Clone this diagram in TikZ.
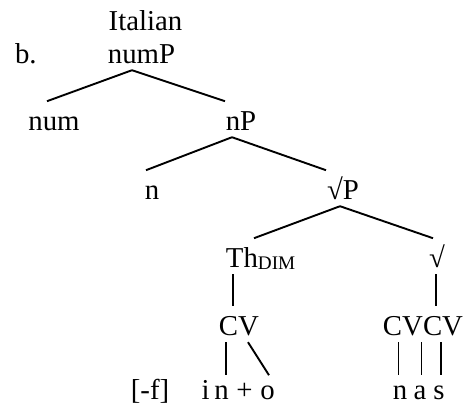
\documentclass[tikz,border=0pt]{standalone}
\usepackage{fontspec}
\setmainfont{Liberation Serif}
\tikzset{
  lab/.style={anchor=base, inner xsep=0pt, inner ysep=7pt, text height=21.6pt, text depth=0pt,
    font=\fontsize{28.8}{34}\selectfont},
  leaf/.style={lab, inner ysep=2pt},
  branch/.style={line width=1.9pt, line cap=butt},
}
\begin{document}
\begin{tikzpicture}[x=1pt,y=1pt]
\useasboundingbox (0,0) rectangle (468,-408);
% labels
\node[lab] (ital) at (145.5,-30) {Italian};
\node[lab] (b) at (25.8,-63) {b.};
\node[lab] (numP) at (141.5,-63) {numP};
\node[lab] (num) at (54,-130) {num};
\node[lab] (nP) at (241,-130) {nP};
\node[lab] (n) at (152,-199) {n};
\node[lab] (rootP) at (343,-199) {√P};
\node[lab] (th) at (260.6,-267) {Th{\fontsize{19.2}{20}\selectfont\raisebox{-2pt}{DIM}}};
\node[lab] (root) at (437,-267) {√};
\node[lab] (cv) at (239,-335) {CV};
\node[lab] (cvcv) at (423,-335) {CVCV};
\node[leaf] (f) at (150,-399) {[-f]};
\node[leaf] (i) at (205.5,-399) {i};
\node[leaf] (n1) at (221.5,-399) {n};
\node[leaf] (plus) at (244.5,-399) {+};
\node[leaf] (o) at (267.5,-399) {o};
\node[leaf] (n2) at (400,-399) {n};
\node[leaf] (a) at (420,-399) {a};
\node[leaf] (s) at (439,-399) {s};
% branches
\draw[branch] ([xshift=-9.5pt]numP.south) -- ([xshift=-7pt]num.north);
\draw[branch] ([xshift=-9.5pt]numP.south) -- ([xshift=-16pt]nP.north);
\draw[branch] ([xshift=-9pt]nP.south) -- ([xshift=-6pt]n.north);
\draw[branch] ([xshift=-9pt]nP.south) -- ([xshift=-17pt]rootP.north);
\draw[branch] ([xshift=-3pt]rootP.south) -- ([xshift=-6.6pt]th.north);
\draw[branch] ([xshift=-3pt]rootP.south) -- ([xshift=-4pt]root.north);
\draw[branch] ([xshift=-27.6pt]th.south) -- ([xshift=-6pt]cv.north);
\draw[branch] ([xshift=-1pt]root.south) -- ([xshift=13pt]cvcv.north);
\draw[branch] ([xshift=-13pt]cv.south) -- ([xshift=4.5pt]n1.north);
\draw[branch] ([xshift=9pt]cv.south) -- ([xshift=1.5pt]o.north);
\draw[branch] ([xshift=-24.5pt]cvcv.south) -- ([xshift=-1.5pt]n2.north);
\draw[branch] ([xshift=-1.5pt]cvcv.south) -- ([xshift=1.5pt]a.north);
\draw[branch] ([xshift=18pt]cvcv.south) -- ([xshift=2pt]s.north);
\end{tikzpicture}
\end{document}
